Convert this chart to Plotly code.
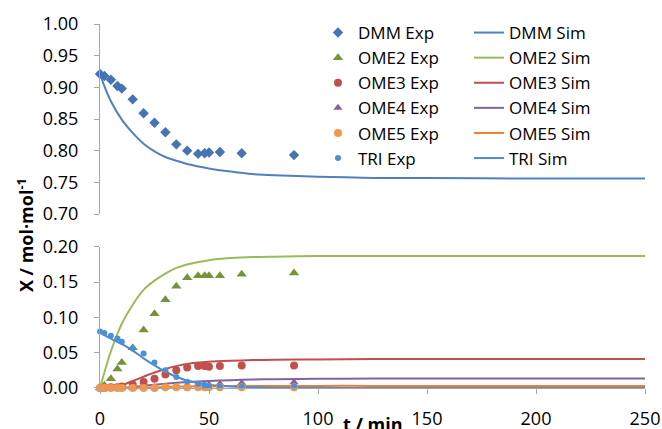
import plotly.graph_objects as go

# ---------------- data ----------------
t_exp = [0, 2, 5, 8, 10, 15, 20, 25, 30, 35, 40, 45, 48, 50, 55, 65, 89]
dmm_exp = [0.921, 0.918, 0.912, 0.902, 0.898, 0.881, 0.859, 0.844, 0.829, 0.810,
           0.800, 0.795, 0.796, 0.797, 0.798, 0.796, 0.793]
ome2_exp = [0.0, 0.004, 0.013, 0.027, 0.036, 0.057, 0.082, 0.105, 0.125, 0.144,
            0.156, 0.159, 0.159, 0.159, 0.159, 0.161, 0.163]
ome3_exp = [0.0, 0.0, 0.001, 0.001, 0.002, 0.005, 0.0085, 0.013, 0.019, 0.025,
            0.029, 0.031, 0.031, 0.030, 0.031, 0.032, 0.032]
ome4_exp = [0.0, 0.0, 0.0, 0.0, 0.0, 0.0, 0.001, 0.001, 0.002, 0.002,
            0.003, 0.005, 0.005, 0.005, 0.006, 0.007, 0.008]
ome5_exp = [0.0, 0.0, 0.0, 0.0, 0.0, 0.0, 0.0, 0.0, 0.001, 0.001,
            0.001, 0.001, 0.001, 0.001, 0.001, 0.001, 0.001]
tri_exp = [0.080, 0.078, 0.074, 0.070, 0.0655, 0.056, 0.049, 0.036, 0.025, 0.0155,
           0.009, 0.006, 0.004, 0.003, 0.002, 0.002, 0.002]

t_sim = [0, 2, 5, 10, 15, 20, 25, 30, 35, 40, 50, 60, 70, 80, 100, 125, 150, 200, 250]
dmm_sim = [0.921, 0.902, 0.878, 0.849, 0.828, 0.811, 0.799, 0.790, 0.784, 0.779,
           0.772, 0.767, 0.763, 0.761, 0.759, 0.757, 0.757, 0.756, 0.756]
ome2_sim = [0.0, 0.022, 0.052, 0.091, 0.118, 0.139, 0.152, 0.162, 0.170, 0.175,
            0.181, 0.184, 0.1855, 0.186, 0.187, 0.187, 0.187, 0.187, 0.187]
ome3_sim = [0.0, 0.0003, 0.001, 0.004, 0.010, 0.016, 0.022, 0.027, 0.031, 0.034,
            0.037, 0.0385, 0.0395, 0.040, 0.0405, 0.041, 0.041, 0.041, 0.041]
ome4_sim = [0.0, 0.0, 0.0001, 0.0005, 0.0015, 0.003, 0.0045, 0.006, 0.0075, 0.0085,
            0.010, 0.011, 0.012, 0.0125, 0.013, 0.0133, 0.0134, 0.0134, 0.0134]
ome5_sim = [0.0, 0.0, 0.0, 0.0001, 0.0002, 0.0005, 0.001, 0.0014, 0.0018, 0.0022,
            0.0025, 0.0027, 0.0028, 0.0029, 0.003, 0.003, 0.003, 0.003, 0.003]
tri_sim = [0.079, 0.075, 0.070, 0.062, 0.053, 0.042, 0.032, 0.023, 0.016, 0.0105,
           0.0045, 0.002, 0.001, 0.0005, 0.0002, 0.0, 0.0, 0.0, 0.0]

x_ticks = [0, 50, 100, 150, 200, 250]

# ---------------- styles ----------------
FONT = "Open Sans"
AX = "#A6A6A6"
C_DMM_M = "#4573B5"
C_DMM_L = "#4F81BD"
C_OME2_M = "#76933C"
C_OME2_L = "#9BBB59"
C_OME3 = "#C0504D"
C_OME4 = "#8064A2"
C_OME5 = "#F79646"
C_OME5_L = "#F07F2A"
C_TRI_M = "#4A90D9"
C_TRI_L = "#4F8BD0"

fig = go.Figure()

def exp(name, y, color, symbol, size, yaxis):
    fig.add_trace(go.Scatter(x=t_exp, y=y, name=name, mode="markers", yaxis=yaxis,
                             marker=dict(color=color, symbol=symbol, size=size, line=dict(width=0)),
                             cliponaxis=False, legend="legend"))

def sim(name, y, color, yaxis):
    fig.add_trace(go.Scatter(x=t_sim, y=y, name=name, mode="lines", yaxis=yaxis,
                             line=dict(color=color, width=2, shape="spline", smoothing=0.6),
                             legend="legend2"))

sim("DMM Sim", dmm_sim, C_DMM_L, "y2")
sim("OME2 Sim", ome2_sim, C_OME2_L, "y")
sim("OME3 Sim", ome3_sim, C_OME3, "y")
sim("OME4 Sim", ome4_sim, C_OME4, "y")
sim("OME5 Sim", ome5_sim, C_OME5_L, "y")
sim("TRI Sim", tri_sim, C_TRI_L, "y")

exp("DMM Exp", dmm_exp, C_DMM_M, "diamond", 8, "y2")
exp("OME2 Exp", ome2_exp, C_OME2_M, "triangle-up", 9, "y")
exp("OME3 Exp", ome3_exp, C_OME3, "circle", 8, "y")
exp("OME4 Exp", ome4_exp, C_OME4, "triangle-up", 8, "y")
exp("OME5 Exp", ome5_exp, C_OME5, "circle", 8, "y")
exp("TRI Exp", tri_exp, C_TRI_M, "circle", 6, "y")

axis_common = dict(showgrid=False, zeroline=False, showline=True, linecolor=AX, linewidth=1,
                   ticks="outside", ticklen=5, tickcolor=AX,
                   tickfont=dict(family=FONT, size=18, color="#000000"))

legend_common = dict(xref="paper", yref="paper", xanchor="left", yanchor="top",
                     bgcolor="rgba(0,0,0,0)",
                     font=dict(family=FONT, size=17, color="#000000"),
                     itemwidth=30, tracegroupgap=0, traceorder="normal")

fig.update_layout(
    width=662, height=429,
    margin=dict(l=100, r=17, t=24, b=41, autoexpand=False),
    paper_bgcolor="white", plot_bgcolor="white",
    font=dict(family=FONT, size=18, color="#000000"),
    xaxis=dict(range=[0, 250], tickvals=x_ticks, ticklabelstandoff=9, anchor="y", **axis_common),
    yaxis=dict(domain=[0, 0.388], range=[0, 0.20], dtick=0.05, tickformat=".2f",
               ticklabelstandoff=12, anchor="x", **axis_common),
    yaxis2=dict(domain=[0.478, 1], range=[0.70, 1.00], dtick=0.05, tickformat=".2f",
                ticklabelstandoff=12, anchor="x", **axis_common),
    legend=dict(x=(318 - 100) / 545, y=(388 - 15) / 364, **legend_common),
    legend2=dict(x=(469 - 100) / 545, y=(388 - 15) / 364, **legend_common),
    showlegend=True,
    annotations=[
        dict(text="<b>t / min</b>", xref="paper", yref="paper", x=0.5, y=0,
             xanchor="center", yanchor="middle", yshift=-36, showarrow=False,
             font=dict(family=FONT, size=18, color="#000000")),
        dict(text="<b>X / mol·mol<sup>-1</sup></b>", xref="paper", yref="paper", x=0, y=0.42,
             xanchor="center", yanchor="middle", xshift=-74, textangle=-90, showarrow=False,
             font=dict(family=FONT, size=18, color="#000000")),
    ],
)

fig.write_html("out.html")
